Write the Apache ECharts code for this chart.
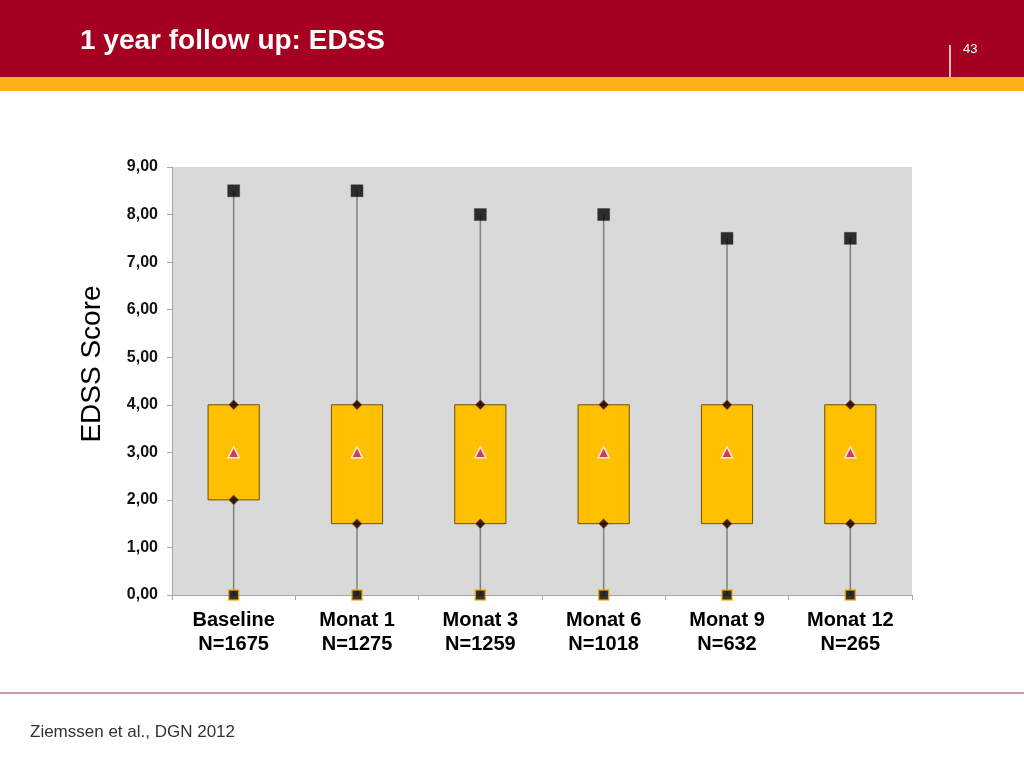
<!DOCTYPE html>
<html>
<head>
<meta charset="utf-8">
<script src="https://cdn.jsdelivr.net/npm/echarts@6/dist/echarts.min.js"></script>
<style>
  html, body { margin: 0; padding: 0; background: #fff; }
  #chart { width: 1024px; height: 768px; }
</style>
</head>
<body>
<div id="chart"></div>
<script>
var categories = ['Baseline', 'Monat 1', 'Monat 3', 'Monat 6', 'Monat 9', 'Monat 12'];
var nValues = [1675, 1275, 1259, 1018, 632, 265];
var maxValues = [8.5, 8.5, 8, 8, 7.5, 7.5];
var q3Values = [4, 4, 4, 4, 4, 4];
var meanValues = [3, 3, 3, 3, 3, 3];
var q1Values = [2, 1.5, 1.5, 1.5, 1.5, 1.5];
var minValues = [0, 0, 0, 0, 0, 0];
var yTicks = [0, 1, 2, 3, 4, 5, 6, 7, 8, 9];

var chart = echarts.init(document.getElementById('chart'));

var labels = categories.map(function (c, i) { return c + '\nN=' + nValues[i]; });
var boxData = categories.map(function (c, i) {
  return [i, minValues[i], q1Values[i], q3Values[i], maxValues[i]];
});
function pts(arr) { return arr.map(function (v, i) { return [i, v]; }); }

var font = '"Liberation Sans", Arial, sans-serif';

var option = {
  animation: false,
  backgroundColor: '#ffffff',
  grid: { left: 172, right: 112, top: 167, bottom: 173, show: true, backgroundColor: '#d9d9d9', borderWidth: 0 },
  graphic: [
    { type: 'rect', shape: { x: 0, y: 0, width: 1024, height: 77 }, style: { fill: '#a50021' }, silent: true },
    { type: 'rect', shape: { x: 0, y: 77, width: 1024, height: 14 }, style: { fill: '#fdb01a' }, silent: true },
    { type: 'text', left: 80, top: 27, style: { text: '1 year follow up: EDSS', fill: '#ffffff', font: 'bold 28px ' + font } },
    { type: 'line', shape: { x1: 950, y1: 45, x2: 950, y2: 77 }, style: { stroke: '#ffffff', lineWidth: 1.5 } },
    { type: 'text', left: 963, top: 43, style: { text: '43', fill: '#ffffff', font: '13px ' + font } },
    { type: 'line', shape: { x1: 0, y1: 693, x2: 1024, y2: 693 }, style: { stroke: '#c07088', lineWidth: 1.5 } },
    { type: 'text', left: 30, top: 724, style: { text: 'Ziemssen et al., DGN 2012', fill: '#333333', font: '17px ' + font } }
  ],
  xAxis: {
    type: 'category',
    data: labels,
    axisLine: { lineStyle: { color: '#a6a6a6', width: 1 } },
    axisTick: { show: true, interval: 0, length: 5, lineStyle: { color: '#a6a6a6' } },
    axisLabel: { interval: 0, color: '#000', fontFamily: font, fontWeight: 'bold', fontSize: 20, lineHeight: 24, margin: 13 }
  },
  yAxis: {
    type: 'value',
    min: 0,
    max: 9,
    interval: 1,
    name: 'EDSS Score',
    nameLocation: 'middle',
    nameGap: 66,
    nameTextStyle: { fontFamily: font, fontSize: 28, color: '#000', padding: [0, 0, 0, 34] },
    axisLine: { show: true, lineStyle: { color: '#a6a6a6', width: 1 } },
    axisTick: { show: true, length: 5, lineStyle: { color: '#a6a6a6' } },
    splitLine: { show: false },
    axisLabel: {
      color: '#111', fontFamily: font, fontWeight: 'bold', fontSize: 16, margin: 14,
      formatter: function (v) { return yTicks.indexOf(v) >= 0 ? v.toFixed(2).replace('.', ',') : ''; }
    }
  },
  series: [
    {
      type: 'custom',
      z: 2,
      data: boxData,
      renderItem: function (params, api) {
        var i = api.value(0);
        var pMin = api.coord([i, api.value(1)]);
        var pQ1 = api.coord([i, api.value(2)]);
        var pQ3 = api.coord([i, api.value(3)]);
        var pMax = api.coord([i, api.value(4)]);
        var w = api.size([1, 0])[0] * 0.415;
        return {
          type: 'group',
          children: [
            { type: 'line', shape: { x1: pMin[0], y1: pMin[1], x2: pMax[0], y2: pMax[1] },
              style: { stroke: '#7f7f7f', lineWidth: 1.5 } },
            { type: 'rect', shape: { x: pQ3[0] - w / 2, y: pQ3[1], width: w, height: pQ1[1] - pQ3[1] },
              style: { fill: '#ffc000', stroke: '#6b5200', lineWidth: 1 } }
          ]
        };
      }
    },
    {
      type: 'scatter', z: 5, data: pts(maxValues), symbol: 'rect', symbolSize: 12,
      itemStyle: { color: '#000', borderColor: '#333', borderWidth: 0.5 }
    },
    {
      type: 'scatter', z: 5, data: pts(minValues), symbol: 'rect', symbolSize: 10,
      itemStyle: { color: '#000', borderColor: '#f0a800', borderWidth: 1.5 }
    },
    {
      type: 'scatter', z: 5, data: pts(q3Values), symbol: 'diamond', symbolSize: 10,
      itemStyle: { color: '#000', borderColor: '#e0602a', borderWidth: 1 }
    },
    {
      type: 'scatter', z: 5, data: pts(q1Values), symbol: 'diamond', symbolSize: 10,
      itemStyle: { color: '#000', borderColor: '#e0602a', borderWidth: 1 }
    },
    {
      type: 'scatter', z: 5, data: pts(meanValues), symbol: 'triangle', symbolSize: 11,
      itemStyle: { color: '#c0187a', borderColor: '#ffffff', borderWidth: 1.5 }
    }
  ]
};

chart.setOption(option);
</script>
</body>
</html>
